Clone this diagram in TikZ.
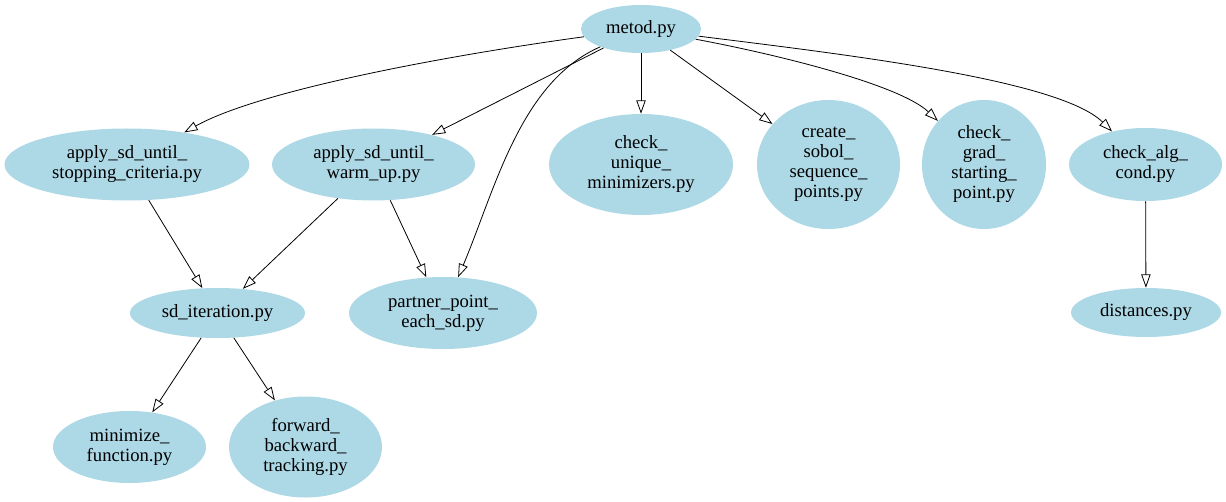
\documentclass[tikz,border=0pt]{standalone}
\usepackage{fontspec}
\setmainfont{Liberation Serif}
\newfontfamily\gvfont{Liberation Serif}
\usetikzlibrary{shapes.geometric,arrows.meta}
\definecolor{gvblue}{HTML}{ADD8E6}
\tikzset{
  ell/.style 2 args={shape=ellipse, fill=gvblue, draw=none, inner sep=0pt,
    minimum width=#1*1.5pt, minimum height=#2*1.5pt, align=center,
    font=\gvfont\fontsize{14}{15}\selectfont},
  edge/.style={draw=black, line width=0.6pt,
    -{Triangle[open,length=10pt,width=7pt]}}
}
\begin{document}
\begin{tikzpicture}[x=0.75pt,y=-0.75pt]
\fill[white] (0,0) rectangle (1226,502);
\useasboundingbox (0,0) rectangle (1226,502);
\node[ell={60}{24}] (metod) at (641,29) {metod.py};
\node[ell={122.5}{36}] (stop) at (127,164.5) {apply\_sd\_until\_\\stopping\_criteria.py};
\node[ell={101.5}{36}] (warm) at (373.5,164.5) {apply\_sd\_until\_\\warm\_up.py};
\node[ell={92}{50.5}] (unique) at (641,164.5) {check\_\\unique\_\\minimizers.py};
\node[ell={71.5}{64.5}] (sobol) at (828.5,164.5) {create\_\\sobol\_\\sequence\_\\points.py};
\node[ell={62}{64.5}] (grad) at (984,164.5) {check\_\\grad\_\\starting\_\\point.py};
\node[ell={76.5}{36.5}] (alg) at (1145.5,164.5) {check\_alg\_\\cond.py};
\node[ell={87.5}{25}] (sditer) at (217.5,313) {sd\_iteration.py};
\node[ell={94}{36}] (partner) at (443,313) {partner\_point\_\\each\_sd.py};
\node[ell={75}{24.5}] (dist) at (1146,312.5) {distances.py};
\node[ell={76.5}{36}] (minim) at (129.5,447) {minimize\_\\function.py};
\node[ell={76.5}{50.5}] (fbt) at (305.5,447) {forward\_\\backward\_\\tracking.py};

\draw[edge] (metod) .. controls (450,55) and (260,90) .. (stop);
\draw[edge] (metod) -- (warm);
\draw[edge] (metod) .. controls (520,82) and (495,190) .. (partner);
\draw[edge] (metod) -- (unique);
\draw[edge] (metod) -- (sobol);
\draw[edge] (metod) .. controls (780,55) and (900,85) .. (grad);
\draw[edge] (metod) .. controls (850,55) and (1060,80) .. (alg);
\draw[edge] (stop) -- (sditer);
\draw[edge] (warm) -- (sditer);
\draw[edge] (warm) -- (partner);
\draw[edge] (alg) -- (dist);
\draw[edge] (sditer) -- (minim);
\draw[edge] (sditer) -- (fbt);
\end{tikzpicture}
\end{document}
